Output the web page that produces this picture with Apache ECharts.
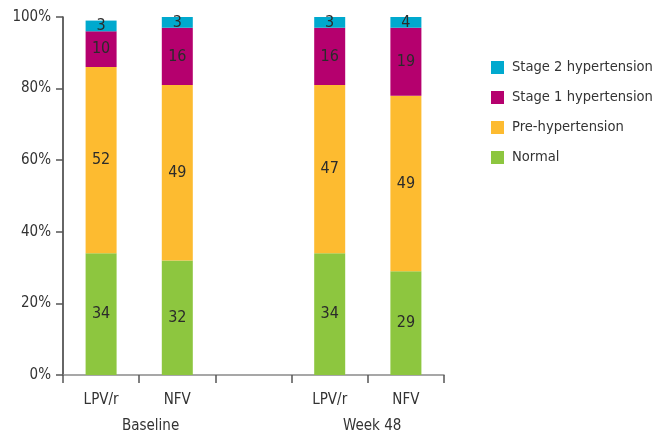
<!DOCTYPE html>
<html>
<head>
<meta charset="utf-8">
<script src="https://cdn.jsdelivr.net/npm/echarts@6/dist/echarts.min.js"></script>
<style>
  html, body { margin: 0; padding: 0; background: #fff; }
  #chart { width: 656px; height: 435px; }
</style>
</head>
<body>
<div id="chart"></div>
<script>
// Blood pressure category shares (%) by treatment arm, baseline vs week 48
const categories = ['LPV/r', 'NFV', '', 'LPV/r', 'NFV'];
const groupLabels = ['Baseline', 'Week 48'];
const normal = [34, 32, '-', 34, 29];
const preHypertension = [52, 49, '-', 47, 49];
const stage1 = [10, 16, '-', 16, 19];
const stage2 = [3, 3, '-', 3, 4];
const yTicks = [0, 20, 40, 60, 80, 100];

const FONT = '"DejaVu Sans Condensed", "Roboto", sans-serif';
const TEXT = '#333333';

const seriesDefs = [
  { name: 'Normal', data: normal, color: '#8DC63F' },
  { name: 'Pre-hypertension', data: preHypertension, color: '#FDBB30' },
  { name: 'Stage 1 hypertension', data: stage1, color: '#B5006E' },
  { name: 'Stage 2 hypertension', data: stage2, color: '#00A9CE' }
];

const chart = echarts.init(document.getElementById('chart'), null, { renderer: 'canvas' });

chart.setOption({
  animation: false,
  textStyle: { fontFamily: FONT },
  grid: { left: 63, right: 212, top: 17, bottom: 60, containLabel: false },
  legend: {
    orient: 'vertical',
    left: 486,
    top: 54,
    itemWidth: 13,
    itemHeight: 13,
    itemGap: 13,
    icon: 'rect',
    data: ['Stage 2 hypertension', 'Stage 1 hypertension', 'Pre-hypertension', 'Normal'],
    textStyle: { fontFamily: FONT, fontSize: 14.6, color: TEXT, lineHeight: 17, padding: [0, 0, 0, 3] }
  },
  xAxis: {
    type: 'category',
    data: categories,
    axisLine: { lineStyle: { color: '#8a8a8a', width: 1.5 } },
    axisTick: { show: true, length: 8, lineStyle: { color: '#555', width: 1.5 } },
    axisLabel: { fontFamily: FONT, fontSize: 15, color: TEXT, margin: 18 }
  },
  yAxis: {
    type: 'value',
    min: yTicks[0],
    max: yTicks[yTicks.length - 1],
    interval: 20,
    splitLine: { show: false },
    axisLine: { show: true, lineStyle: { color: '#333', width: 1.5 } },
    axisTick: { show: true, inside: false, length: 7, lineStyle: { color: '#555', width: 1.5 } },
    axisLabel: { fontFamily: FONT, fontSize: 15, color: TEXT, margin: 12, formatter: '{value}%',
                 padding: [4, 0, 0, 0] }
  },
  series: seriesDefs.map(s => ({
    name: s.name,
    type: 'bar',
    stack: 'bp',
    barWidth: 31,
    data: s.data,
    itemStyle: { color: s.color },
    label: {
      show: true,
      position: 'inside',
      fontFamily: FONT,
      fontSize: 16,
      color: '#2b2b2b'
    }
  }))
});

// Group captions under the category labels
chart.setOption({
  graphic: [
    { type: 'text', left: 122, top: 419, style: { text: groupLabels[0], font: '15px ' + FONT, fill: TEXT } },
    { type: 'text', left: 343, top: 419, style: { text: groupLabels[1], font: '15px ' + FONT, fill: TEXT } }
  ]
});
</script>
</body>
</html>
